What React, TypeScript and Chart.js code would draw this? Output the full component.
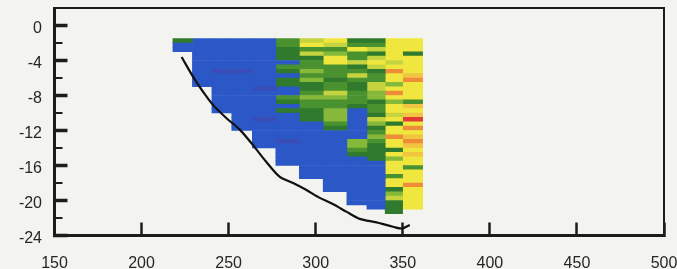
import React, { useEffect, useRef } from 'react';
import { Chart, registerables } from 'chart.js';

Chart.register(...registerables);

// ---- axis ticks ----
const xTicks = [150, 200, 250, 300, 350, 400, 450, 500];
const xTickLabels = ['150', '200', '250', '300', '350', '400', '450', '500'];
const yTicks = [0, -4, -8, -12, -16, -20, -24];
const yTickLabels = ['0', '-4', '-8', '-12', '-16', '-20', '-24'];
const yMinorTicks = [-2, -6, -10, -14, -18, -22];

// ---- heatmap grid (depth rows, x column edges) ----
const depths = [
  -1.75, -2.25, -2.75, -3.25, -3.75, -4.25, -4.75, -5.25, -5.75, -6.25,
  -6.75, -7.25, -7.75, -8.25, -8.75, -9.25, -9.75, -10.25, -10.75, -11.25,
  -11.75, -12.25, -12.75, -13.25, -13.75, -14.25, -14.75, -15.25, -15.75, -16.25,
  -16.75, -17.25, -17.75, -18.25, -18.75, -19.25, -19.75, -20.25, -20.75, -21.25,
];
const colEdges = [218, 229.2, 240.4, 251.8, 263.6, 277.1, 290.6, 304.3, 317.9, 329.4, 339.9, 349.9, 361.4];

// cell levels per column, top row first
// 0 blue, 1 violet-blue, 2 dark green, 3 green, 4 light green, 5 yellow-green, 6 yellow, 7 yellow-orange, 8 orange, 9 red
const col1 = [2, 0, 0];
const col2 = [0, 0, 0, 0, 0, 0, 0, 0, 0, 0, 0];
const col3 = [0, 0, 0, 0, 0, 0, 0, 1, 0, 0, 0, 0, 0, 0, 0, 0, 0];
const col4 = [0, 0, 0, 0, 0, 0, 0, 1, 0, 0, 0, 0, 0, 0, 0, 0, 0, 0, 0, 0, 0];
const col5 = [0, 0, 0, 0, 0, 0, 0, 0, 0, 0, 0, 1, 0, 0, 0, 0, 0, 0, 1, 0, 0, 0, 0, 0, 0];
const col6 = [3, 3, 2, 2, 2, 0, 3, 2, 0, 2, 2, 0, 0, 3, 2, 0, 2, 0, 0, 0, 0, 0, 0, 1, 0, 0, 0, 0, 0];
const col7 = [5, 6, 3, 5, 2, 3, 3, 4, 3, 4, 2, 2, 3, 4, 3, 3, 2, 2, 2, 0, 0, 0, 0, 0, 0, 0, 0, 0, 0, 0, 0, 0];
const col8 = [6, 5, 3, 4, 6, 6, 3, 3, 3, 2, 3, 3, 5, 4, 3, 3, 4, 4, 4, 3, 2, 0, 0, 0, 0, 0, 0, 0, 0, 0, 0, 0, 0, 0, 0];
const col9 = [2, 3, 6, 3, 3, 5, 2, 3, 5, 3, 2, 2, 3, 3, 3, 2, 0, 0, 0, 0, 0, 0, 0, 4, 4, 3, 2, 0, 0, 0, 0, 0, 0, 0, 0, 0, 0, 0];
const col10 = [2, 3, 5, 2, 5, 6, 5, 2, 3, 3, 5, 5, 4, 4, 2, 3, 3, 2, 5, 4, 2, 3, 4, 3, 2, 2, 2, 2, 0, 0, 0, 0, 0, 0, 0, 0, 0, 0, 0];
const col11 = [6, 6, 6, 6, 6, 5, 6, 8, 6, 6, 4, 6, 8, 6, 4, 6, 6, 5, 6, 2, 6, 6, 8, 6, 6, 2, 6, 4, 6, 6, 6, 3, 6, 6, 2, 4, 5, 2, 2, 2];
const col12 = [6, 6, 6, 2, 6, 6, 6, 6, 7, 8, 6, 6, 6, 6, 3, 7, 6, 7, 9, 6, 8, 6, 7, 8, 7, 6, 7, 6, 6, 3, 6, 6, 6, 8, 6, 6, 6, 6, 6];
const columns = [col1, col2, col3, col4, col5, col6, col7, col8, col9, col10, col11, col12];

const palette = [
  '#2b58c6', '#3a4cb8', '#2f7a2c', '#4a9230', '#86b83a',
  '#c5d43e', '#efe63e', '#f1c442', '#ee8c3a', '#e33a36',
];

// ---- black profile line ----
const lineX = [223, 229.7, 235.4, 241.1, 248.8, 256.4, 264.1, 271.7, 279.4, 287, 294.7, 302.3, 309.8, 317.8, 325.3, 334.9, 344.4, 349.4, 354];
const lineY = [-3.6, -5.9, -7.6, -9.1, -10.6, -11.9, -13.7, -15.6, -17.3, -18.0, -18.8, -19.7, -20.4, -21.3, -22.1, -22.5, -23.0, -23.2, -22.8];

const INK = '#1c1c1c';
const FONT = { family: "'Liberation Sans', Arial, sans-serif", size: 16 };

const frameAndMinor = {
  id: 'frameAndMinor',
  afterDraw(chart: any) {
    const { ctx, chartArea: a, scales } = chart;
    const y = scales.y;
    ctx.save();
    ctx.strokeStyle = INK;
    ctx.lineWidth = 2;
    yMinorTicks.forEach((v) => {
      const py = y.getPixelForValue(v);
      ctx.beginPath();
      ctx.moveTo(a.left, py);
      ctx.lineTo(a.left + 8, py);
      ctx.stroke();
    });
    ctx.lineWidth = 2;
    ctx.beginPath();
    ctx.moveTo(a.left, a.top);
    ctx.lineTo(a.right, a.top);
    ctx.lineTo(a.right, a.bottom);
    ctx.stroke();
    ctx.restore();
  },
};

export default function App() {
  const ref = useRef<HTMLCanvasElement>(null);

  useEffect(() => {
    if (!ref.current) return;
    const barSets = columns.map((col, i) => ({
      type: 'bar' as const,
      indexAxis: 'y' as const,
      data: col.map((_lv, r) => ({ y: depths[r], x: [colEdges[i], colEdges[i + 1]] })),
      backgroundColor: col.map((lv) => palette[lv]),
      borderWidth: 0,
      barPercentage: 1,
      categoryPercentage: 1,
      grouped: false,
      order: 1,
    }));
    const lineSet = {
      type: 'line' as const,
      data: lineX.map((x, i) => ({ x, y: lineY[i] })),
      borderColor: '#111111',
      borderWidth: 2.2,
      pointRadius: 0,
      tension: 0.3,
      fill: false,
      order: 0,
    };
    const chart = new Chart(ref.current, {
      type: 'bar',
      data: { datasets: [...barSets, lineSet] as any },
      options: {
        animation: false,
        responsive: false,
        devicePixelRatio: 1,
        layout: { padding: { top: 8, right: 13, left: 0, bottom: 0 } },
        plugins: { legend: { display: false }, tooltip: { enabled: false } },
        scales: {
          x: {
            type: 'linear',
            min: 150,
            max: 500,
            offset: false,
            afterBuildTicks: (s: any) => {
              s.ticks = xTicks.map((v) => ({ value: v }));
            },
            afterFit: (s: any) => {
              s.height = 33.5;
              s.paddingLeft = 0;
              s.paddingRight = 0;
            },
            ticks: {
              callback: (v: any) => {
                const k = xTicks.indexOf(Number(v));
                return k >= 0 ? xTickLabels[k] : '';
              },
              font: FONT,
              color: '#262626',
              padding: 31,
              maxRotation: 0,
              autoSkip: false,
            },
            grid: { offset: false, drawOnChartArea: false, drawTicks: true, tickLength: -13, tickWidth: 2.5, tickColor: INK },
            border: { display: true, color: INK, width: 3 },
          },
          y: {
            type: 'linear',
            min: -24,
            max: 2,
            offset: false,
            afterBuildTicks: (s: any) => {
              s.ticks = yTicks.map((v) => ({ value: v }));
            },
            afterFit: (s: any) => {
              s.width = 54.5;
              s.paddingTop = 0;
              s.paddingBottom = 0;
            },
            ticks: {
              callback: (v: any) => {
                const k = yTicks.indexOf(Number(v));
                return k >= 0 ? yTickLabels[k] : '';
              },
              font: FONT,
              color: '#262626',
              padding: 25.5,
              labelOffset: 3,
              autoSkip: false,
            },
            grid: { offset: false, drawOnChartArea: false, drawTicks: true, tickLength: -13, tickWidth: 3.5, tickColor: INK },
            border: { display: true, color: INK, width: 3 },
          },
        },
      } as any,
      plugins: [frameAndMinor],
    });
    return () => chart.destroy();
  }, []);

  return (
    <div style={{ position: 'fixed', left: 0, top: 0, width: 677, height: 269, background: '#f3f3f0' }}>
      <canvas ref={ref} width={677} height={269} style={{ display: 'block' }} />
    </div>
  );
}
